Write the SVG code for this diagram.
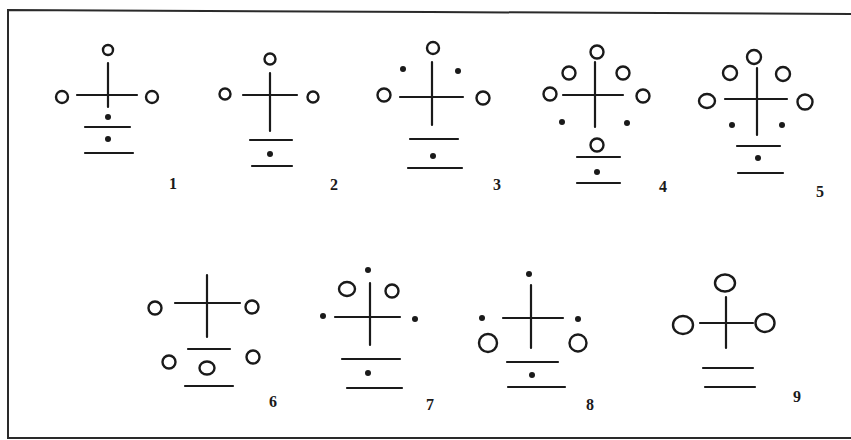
<svg xmlns="http://www.w3.org/2000/svg" width="851" height="440" viewBox="0 0 851 440">
<style>
.ln{stroke:#1a1a1a;stroke-width:2.2;stroke-linecap:round;fill:none}
.c{stroke:#1a1a1a;stroke-width:2.4;fill:none}
.d{fill:#1a1a1a}
.lb{font-family:"Liberation Serif",serif;font-weight:bold;font-size:16px;fill:#1a1a1a;text-anchor:middle}
.fr{stroke:#2a2a2a;stroke-width:2;fill:none}
</style>
<rect width="851" height="440" fill="#fff"/>
<path class="fr" d="M851,14 L430,12 L8,10 L8,438 L851,438"/>

<g id="fig1">
<circle class="c" cx="108" cy="50" r="5"/>
<circle class="c" cx="62" cy="97" r="6"/>
<circle class="c" cx="152" cy="97" r="6"/>
<path class="ln" d="M108,63 V107 M77,95 H137 M85,127 H130 M85,153 H133"/>
<circle class="d" cx="108" cy="117" r="3"/>
<circle class="d" cx="108" cy="139" r="3"/>
<text class="lb" x="173" y="189">1</text>
</g>

<g id="fig2">
<circle class="c" cx="270" cy="59" r="5.5"/>
<circle class="c" cx="225" cy="94" r="5.5"/>
<circle class="c" cx="313" cy="97" r="5.5"/>
<path class="ln" d="M270,73 V131 M243,95 H297 M250,140 H292 M252,166 H292"/>
<circle class="d" cx="270" cy="154" r="3"/>
<text class="lb" x="334" y="190">2</text>
</g>

<g id="fig3">
<circle class="c" cx="433" cy="48" r="6"/>
<circle class="c" cx="384" cy="95" r="6.5"/>
<circle class="c" cx="483" cy="98" r="6.5"/>
<path class="ln" d="M432,62 V125 M400,97 H463 M410,139 H458 M408,168 H462"/>
<circle class="d" cx="403" cy="69" r="3"/>
<circle class="d" cx="458" cy="71" r="3"/>
<circle class="d" cx="433" cy="156" r="3"/>
<text class="lb" x="497" y="190">3</text>
</g>

<g id="fig4">
<circle class="c" cx="597" cy="52" r="6.5"/>
<circle class="c" cx="569" cy="73" r="6.5"/>
<circle class="c" cx="623" cy="73" r="6.5"/>
<circle class="c" cx="550" cy="94" r="6.5"/>
<circle class="c" cx="643" cy="96" r="6.5"/>
<circle class="c" cx="597" cy="145" r="6.5"/>
<path class="ln" d="M595,62 V127 M563,95 H623 M577,157 H620 M577,183 H620"/>
<circle class="d" cx="562" cy="122" r="3"/>
<circle class="d" cx="627" cy="123" r="3"/>
<circle class="d" cx="597" cy="172" r="3"/>
<text class="lb" x="663" y="192">4</text>
</g>

<g id="fig5">
<circle class="c" cx="754" cy="57" r="7"/>
<circle class="c" cx="730" cy="73" r="7"/>
<circle class="c" cx="783" cy="74" r="7"/>
<ellipse class="c" cx="707" cy="101" rx="8" ry="7"/>
<ellipse class="c" cx="805" cy="102" rx="7.5" ry="7.5"/>
<path class="ln" d="M757,68 V135 M725,99 H787 M737,146 H780 M738,173 H783"/>
<circle class="d" cx="732" cy="125" r="3"/>
<circle class="d" cx="782" cy="125" r="3"/>
<circle class="d" cx="758" cy="158" r="3"/>
<text class="lb" x="820" y="197">5</text>
</g>

<g id="fig6">
<circle class="c" cx="155" cy="308" r="6.5"/>
<circle class="c" cx="252" cy="307" r="6.5"/>
<circle class="c" cx="169" cy="362" r="6.5"/>
<ellipse class="c" cx="207" cy="368" rx="7.5" ry="6.5"/>
<circle class="c" cx="253" cy="357" r="6.5"/>
<path class="ln" d="M207,275 V337 M175,303 H240 M188,349 H230 M185,386 H233"/>
<text class="lb" x="273" y="407">6</text>
</g>

<g id="fig7">
<ellipse class="c" cx="347" cy="289" rx="8" ry="7"/>
<circle class="c" cx="392" cy="291" r="6.5"/>
<path class="ln" d="M370,283 V345 M335,317 H400 M342,359 H400 M347,388 H402"/>
<circle class="d" cx="368" cy="270" r="3"/>
<circle class="d" cx="323" cy="316" r="3"/>
<circle class="d" cx="415" cy="319" r="3"/>
<circle class="d" cx="368" cy="373" r="3"/>
<text class="lb" x="430" y="410">7</text>
</g>

<g id="fig8">
<circle class="c" cx="488" cy="343" r="9"/>
<circle class="c" cx="578" cy="343" r="8.5"/>
<path class="ln" d="M531,285 V348 M503,318 H563 M507,362 H558 M508,387 H565"/>
<circle class="d" cx="529" cy="274" r="3"/>
<circle class="d" cx="482" cy="318" r="3"/>
<circle class="d" cx="578" cy="319" r="3"/>
<circle class="d" cx="532" cy="375" r="3"/>
<text class="lb" x="590" y="410">8</text>
</g>

<g id="fig9">
<ellipse class="c" cx="725" cy="283" rx="10" ry="8.5"/>
<ellipse class="c" cx="683" cy="325" rx="10" ry="9"/>
<ellipse class="c" cx="765" cy="323" rx="9.5" ry="9"/>
<path class="ln" d="M726,297 V348 M700,323 H753 M703,368 H753 M705,387 H755"/>
<text class="lb" x="797" y="402">9</text>
</g>
</svg>
